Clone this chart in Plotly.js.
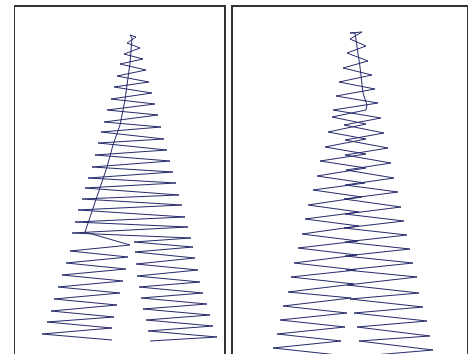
<!DOCTYPE html>
<html><head><meta charset="utf-8">
<script src="https://cdn.plot.ly/plotly-3.0.1.min.js"></script>
<style>html,body{margin:0;padding:0;background:#fff}#chart{width:475px;height:354px}</style>
</head><body><div id="chart"></div>
<script>
// ---- Panel A (left) ----
const aTrunkX = [85, 92, 100, 107, 113, 120, 125, 128, 130, 132];
const aTrunkY = [232, 212, 188, 167, 145, 125, 100, 80, 63, 38];

const aCrownX = [132, 130, 136,
  127, 140, 124, 143, 120, 146, 117, 149, 114, 152, 111, 155, 107, 158, 104, 161,
  101, 164, 98, 167, 95, 170, 92, 173, 88, 176, 85, 179, 82, 182, 78, 185, 75, 188, 72, 191,
  134, 193, 135, 195, 136, 198, 137, 200, 139, 203, 141, 207, 143, 210, 146, 213, 148, 217, 150];
const aCrownY = [38, 35, 37,
  43, 48, 54, 59, 64, 70, 76, 82, 87, 93, 99, 104, 110, 115, 122, 127,
  132, 139, 143, 150, 155, 161, 167, 172, 178, 183, 188, 195, 199, 205, 210, 217, 222, 227, 233, 238,
  242, 247, 252, 258, 264, 270, 276, 282, 287, 293, 298, 304, 309, 315, 320, 326, 331, 337, 341];

const aLegX = [85, 130, 70, 128, 66, 126, 62, 123, 58, 120, 54, 117, 51, 114, 47, 112, 42, 112];
const aLegY = [232, 245, 251, 257, 263, 269, 275, 281, 287, 293, 299, 305, 311, 317, 322, 328, 334, 340];

// ---- Panel B (right) ----
const bTrunkX = [367, 363, 360, 357, 355];
const bTrunkY = [105, 93, 67, 45, 33];

const bCrownX = [355, 350, 362, 350, 366, 347, 368, 343, 372, 339, 375, 336, 378, 333, 381,
  344, 384, 345, 388, 345, 391, 346, 394, 345, 398, 344, 401, 345, 404, 344, 407, 345, 410,
  345, 413, 346, 417, 347, 419, 350, 423, 354, 427, 357, 430, 359, 433, 362];
const bCrownY = [33, 33, 32, 39, 46, 53, 61, 68, 75, 82, 89, 96, 103, 110, 118,
  125, 133, 140, 148, 155, 163, 170, 178, 185, 192, 199, 207, 214, 221, 228, 235, 242, 249,
  256, 263, 270, 277, 285, 293, 299, 307, 313, 321, 327, 336, 341, 350, 356];

const bLegX = [367, 366, 332, 366, 328, 366, 325, 366, 320, 366, 317, 365, 313, 362, 308, 359, 305, 359,
  302, 358, 298, 357, 294, 356, 291, 354, 288, 351, 283, 347, 280, 345, 277, 341, 273, 338];
const bLegY = [105, 110, 117, 124, 132, 139, 147, 154, 161, 168, 176, 183, 190, 197, 205, 212, 219, 226,
  234, 241, 248, 255, 263, 270, 277, 284, 292, 298, 306, 313, 320, 327, 334, 341, 348, 355];

const lineColor = '#262b6b';
function tr(x, y, xa, ya) {
  return {x: x, y: y, xaxis: xa, yaxis: ya, type: 'scatter', mode: 'lines',
          line: {color: lineColor, width: 1}, hoverinfo: 'skip'};
}
const data = [
  tr(aTrunkX, aTrunkY, 'x', 'y'), tr(aCrownX, aCrownY, 'x', 'y'), tr(aLegX, aLegY, 'x', 'y'),
  tr(bTrunkX, bTrunkY, 'x2', 'y2'), tr(bCrownX, bCrownY, 'x2', 'y2'), tr(bLegX, bLegY, 'x2', 'y2')
];
const W = 475, H = 354;
const frame = {showline: true, linecolor: '#333', linewidth: 1.5, showgrid: false, zeroline: false,
               showticklabels: false, ticks: ''};
const layout = {
  width: W, height: H, margin: {l: 0, r: 0, t: 0, b: 0},
  paper_bgcolor: '#fff', plot_bgcolor: '#fff', showlegend: false,
  xaxis: Object.assign({}, frame, {domain: [15 / W, 224.3 / W], range: [15, 224.3], side: 'top', anchor: 'y'}),
  yaxis: Object.assign({}, frame, {domain: [0, 1 - 6.8 / H], range: [354, 6.8], mirror: true, anchor: 'x'}),
  xaxis2: Object.assign({}, frame, {domain: [232.8 / W, 466.8 / W], range: [232.8, 466.8], side: 'top', anchor: 'y2'}),
  yaxis2: Object.assign({}, frame, {domain: [0, 1 - 6.8 / H], range: [354, 6.8], mirror: true, anchor: 'x2'})
};
Plotly.newPlot('chart', data, layout, {staticPlot: true, displayModeBar: false});
</script>
</body></html>
